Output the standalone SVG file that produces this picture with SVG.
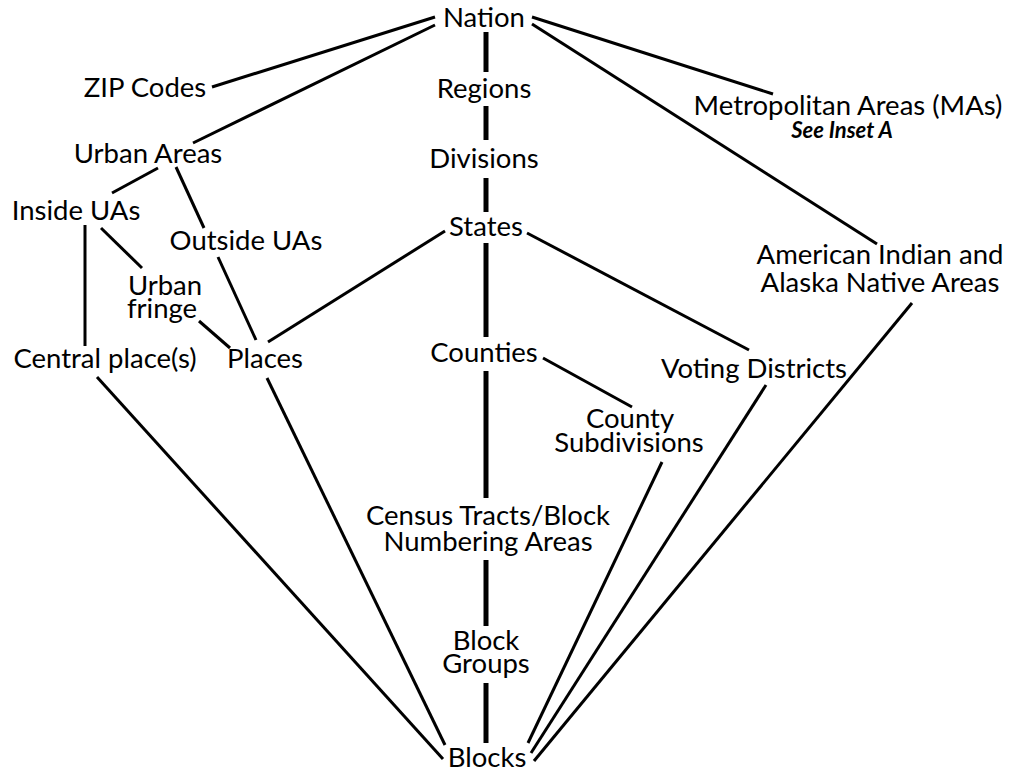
<svg xmlns="http://www.w3.org/2000/svg" width="1012" height="774" viewBox="0 0 1012 774">
<style>
  text { font-family: Lato, "Open Sans", sans-serif; font-size: 27.5px; fill: #000; text-anchor: middle; }
  .note { font-size: 22px; font-weight: bold; font-style: italic; }
  .c line { stroke: #000; stroke-width: 3; }
  .c line.v { stroke-width: 5; }
</style>
<rect width="1012" height="774" fill="#fff"/>
<g id="connectors" class="c">
  <line class="v" x1="486" y1="32" x2="486" y2="72"/>
  <line class="v" x1="486" y1="106" x2="486" y2="140"/>
  <line class="v" x1="486" y1="178" x2="486" y2="212"/>
  <line class="v" x1="486" y1="243" x2="486" y2="337"/>
  <line class="v" x1="486" y1="371" x2="486" y2="498"/>
  <line class="v" x1="486" y1="560" x2="486" y2="626"/>
  <line class="v" x1="486" y1="683" x2="486" y2="743"/>
  <line x1="435" y1="17" x2="212" y2="87"/>
  <line x1="435" y1="25" x2="193" y2="143"/>
  <line x1="532" y1="17" x2="773" y2="94"/>
  <line x1="532" y1="24" x2="877" y2="244"/>
  <line x1="158" y1="168" x2="112" y2="193"/>
  <line x1="176" y1="167" x2="204" y2="228"/>
  <line x1="85" y1="225" x2="85" y2="346"/>
  <line x1="101" y1="228" x2="142" y2="268"/>
  <line x1="199" y1="321" x2="230" y2="348"/>
  <line x1="218" y1="257" x2="256" y2="340"/>
  <line x1="445" y1="231" x2="268" y2="342"/>
  <line x1="527" y1="233" x2="749" y2="350"/>
  <line x1="543" y1="358" x2="632" y2="407"/>
  <line x1="97" y1="377" x2="443" y2="759"/>
  <line x1="267" y1="378" x2="445" y2="745"/>
  <line x1="662" y1="462" x2="528" y2="743"/>
  <line x1="766" y1="385" x2="531" y2="753"/>
  <line x1="912" y1="303" x2="534" y2="761"/>
</g>
<g id="nation"><text x="484" y="27">Nation</text></g>
<g id="zip"><text x="145" y="97">ZIP Codes</text></g>
<g id="regions"><text x="484" y="98">Regions</text></g>
<g id="ma"><text x="848" y="115">Metropolitan Areas (MAs)</text><text class="note" x="842" y="138">See Inset A</text></g>
<g id="urban-areas"><text x="148" y="163">Urban Areas</text></g>
<g id="divisions"><text x="484" y="168">Divisions</text></g>
<g id="inside-uas"><text x="76" y="220">Inside UAs</text></g>
<g id="states"><text x="486" y="236">States</text></g>
<g id="outside-uas"><text x="246" y="250">Outside UAs</text></g>
<g id="aian"><text x="880" y="264">American Indian and</text><text x="880" y="292">Alaska Native Areas</text></g>
<g id="urban-fringe"><text x="165" y="295">Urban</text><text x="162" y="318">fringe</text></g>
<g id="central-place"><text x="105" y="368">Central place(s)</text></g>
<g id="places"><text x="265" y="368">Places</text></g>
<g id="counties"><text x="484" y="362">Counties</text></g>
<g id="voting"><text x="754" y="378">Voting Districts</text></g>
<g id="county-sub"><text x="630" y="428">County</text><text x="629" y="452">Subdivisions</text></g>
<g id="tracts"><text x="488" y="525">Census Tracts/Block</text><text x="488" y="551">Numbering Areas</text></g>
<g id="block-groups"><text x="486" y="650">Block</text><text x="486" y="673">Groups</text></g>
<g id="blocks"><text x="487" y="767">Blocks</text></g>
</svg>
